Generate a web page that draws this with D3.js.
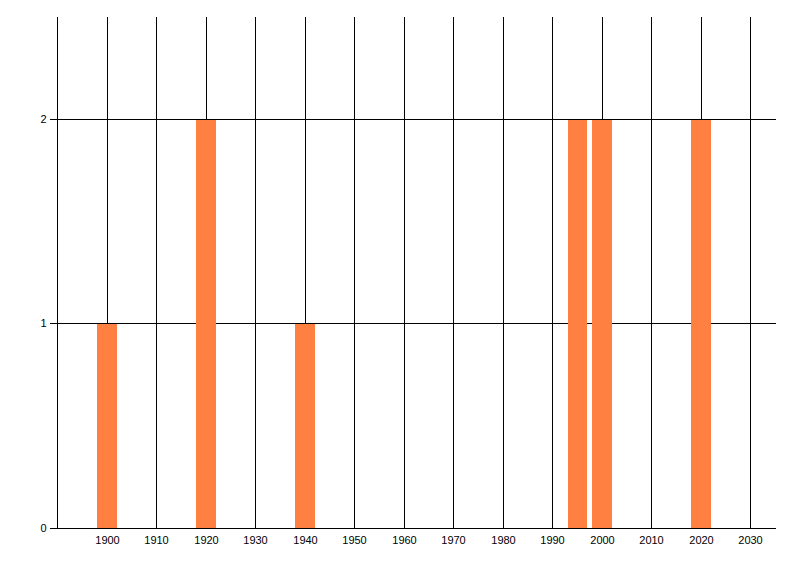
<!DOCTYPE html>
<html><head><meta charset="utf-8">
<script src="https://cdn.jsdelivr.net/npm/d3@7"></script>
<style>body{margin:0;background:#fff}svg{display:block}</style>
</head><body>
<svg id="c" width="800" height="576"></svg>
<script>
const years = [1900, 1920, 1940, 1995, 2000, 2020];
const counts = [1, 2, 1, 2, 2, 2];
const xTicks = [1900, 1910, 1920, 1930, 1940, 1950, 1960, 1970, 1980, 1990, 2000, 2010, 2020, 2030];
const yTicks = [0, 1, 2];
const barWidthYears = 4;

const svg = d3.select("#c");
const x = d3.scaleLinear().domain([1890, 2035]).range([57.5, 775.5]);
const y = d3.scaleLinear().domain([0, 2.5]).range([527.5, 17]);

const g = svg.append("g").attr("shape-rendering", "crispEdges");

// vertical grid
g.selectAll(".vg").data(xTicks).enter().append("line")
  .attr("x1", d => Math.floor(x(d)) + 0.5).attr("x2", d => Math.floor(x(d)) + 0.5)
  .attr("y1", y(2.5)).attr("y2", y(0))
  .attr("stroke", "#000").attr("stroke-width", 1);

// horizontal grid
g.selectAll(".hg").data(yTicks.filter(d => d > 0)).enter().append("line")
  .attr("x1", x(1890)).attr("x2", x(2035))
  .attr("y1", d => Math.round(y(d)) + 0.5).attr("y2", d => Math.round(y(d)) + 0.5)
  .attr("stroke", "#000");

// bars
g.selectAll(".bar").data(years.map((yr, i) => ({yr, v: counts[i]}))).enter().append("rect")
  .attr("x", d => Math.round(x(d.yr - barWidthYears / 2)))
  .attr("width", d => Math.round(x(d.yr + barWidthYears / 2)) - Math.round(x(d.yr - barWidthYears / 2)))
  .attr("y", d => Math.round(y(d.v)) + 1)
  .attr("height", d => Math.round(y(0)) - Math.round(y(d.v)) - 1)
  .attr("fill", "#FF8040");

// axes
const xAxis = d3.axisBottom(x).tickValues(xTicks).tickFormat(d3.format("d")).tickSize(0).tickPadding(8);
const xg = svg.append("g").attr("transform", `translate(0,${Math.round(y(0)) + 0.5})`).call(xAxis);
xg.select(".domain").attr("stroke", "#000").attr("d", `M${x(1890)},0H${x(2035)}`).attr("shape-rendering", "crispEdges");
xg.selectAll(".tick").attr("transform", d => `translate(${Math.floor(x(d)) + 0.5},0)`);

const yAxis = d3.axisLeft(y).tickValues(yTicks).tickFormat(d3.format("d")).tickSize(8).tickPadding(3);
const yg = svg.append("g").attr("transform", `translate(${Math.floor(x(1890)) + 0.5},0)`).call(yAxis);
yg.select(".domain").attr("d", `M0,${y(2.5)}V${y(0)}`).attr("stroke", "#000").attr("shape-rendering", "crispEdges");
yg.selectAll(".tick line").attr("stroke", "#000").attr("shape-rendering", "crispEdges");
yg.selectAll(".tick").attr("transform", d => `translate(0,${Math.round(y(d))})`);

svg.selectAll(".tick text").attr("font-family", "Liberation Sans, Arial, sans-serif").attr("font-size", "11px").attr("fill", "#000");
</script>
</body></html>
